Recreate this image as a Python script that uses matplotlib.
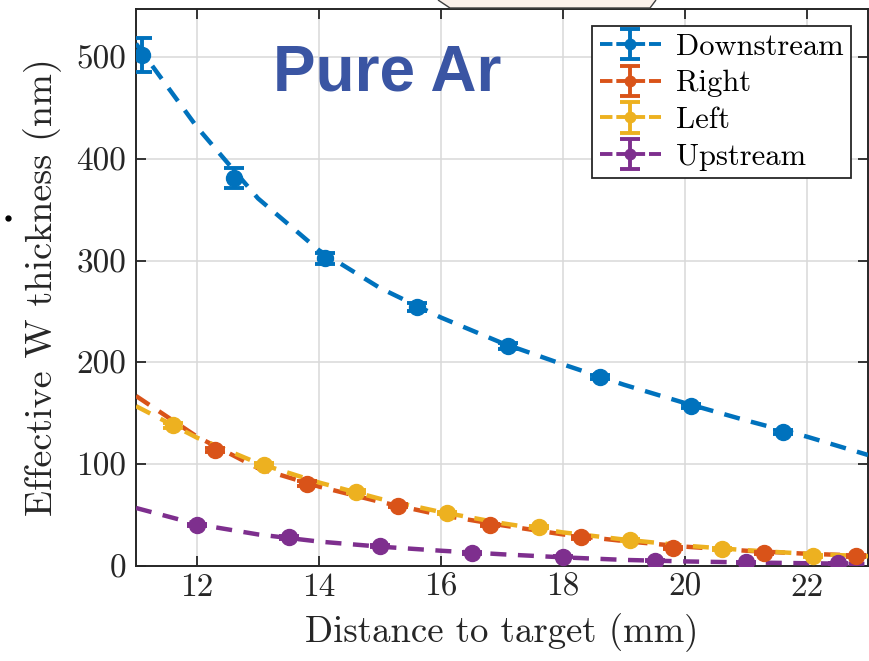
import numpy as np
import matplotlib
matplotlib.use('Agg')
import matplotlib.pyplot as plt
from matplotlib.patches import Polygon
from matplotlib.lines import Line2D

plt.rcParams['axes.formatter.use_mathtext'] = True
plt.rcParams['mathtext.fontset'] = 'cm'

# ---------------- data ----------------
series_names = ['Downstream', 'Right', 'Left', 'Upstream']
colors = ['#0072BD', '#D95319', '#EDB120', '#7E2F8E']

down_x = [11.1, 12.6, 14.1, 15.6, 17.1, 18.6, 20.1, 21.6]
down_y = [502, 381, 302, 254, 216, 186, 157, 132]
down_err = [17, 10, 5, 4, 3, 2, 2, 2]

right_x = [12.3, 13.8, 15.3, 16.8, 18.3, 19.8, 21.3, 22.8]
right_y = [114, 81, 59, 40, 28, 18, 13, 10]
right_err = [2, 2, 1.5, 1, 1, 1, 1, 1]

left_x = [11.6, 13.1, 14.6, 16.1, 17.6, 19.1, 20.6, 22.1]
left_y = [138, 99, 73, 52, 38, 26, 17, 10]
left_err = [2, 2, 1.5, 1, 1, 1, 1, 1]

up_x = [12.0, 13.5, 15.0, 16.5, 18.0, 19.5, 21.0, 22.5]
up_y = [40, 28, 19.5, 13, 9, 5, 3.5, 2.5]
up_err = [1, 1, 1, 1, 0.5, 0.5, 0.5, 0.5]

# dashed fit curves, read at integer distances
fit_x = [11, 12, 13, 14, 15, 16, 17, 18, 19, 20, 21, 22, 23]
down_fit = [513, 431, 361, 310, 273, 244, 219, 198, 178, 160, 143, 127, 109]
right_fit = [167, 127, 96, 78, 63, 50, 40, 31, 24.5, 19, 15, 12, 10]
left_fit = [157, 126, 101, 82, 66, 53, 42, 33, 26, 20, 15.5, 12, 9.5]
up_fit = [57, 41, 31, 24, 19, 15, 11.5, 8.5, 6, 4.5, 3.5, 2.7, 2]

x_ticks = [12, 14, 16, 18, 20, 22]
y_ticks = [0, 100, 200, 300, 400, 500]

# ---------------- figure ----------------
W, H = 869, 661
fig = plt.figure(figsize=(W / 100, H / 100), dpi=100)
ax = fig.add_axes([136 / W, 1 - 566 / H, (868 - 136) / W, (566 - 9) / H])

data = [
    (down_x, down_y, down_err, down_fit),
    (right_x, right_y, right_err, right_fit),
    (left_x, left_y, left_err, left_fit),
    (up_x, up_y, up_err, up_fit),
]

lw = 3.2
dash = (3.6, 2.6)
handles = []
for (xs, ys, es, fit), c, name in zip(data, colors, series_names):
    ax.plot(fit_x, fit, color=c, lw=lw, ls=(0, dash), zorder=3,
            dash_capstyle='butt')
    ax.errorbar(xs, ys, yerr=es, fmt='o', color=c, ms=11.5, elinewidth=2.8,
                capsize=7, capthick=2.8, zorder=4)
    h = ax.errorbar([np.nan], [np.nan], yerr=[1], fmt='o', ls=(0, (3.2, 1.0)),
                    color=c, ms=7.5, lw=2.8, elinewidth=2.8, capsize=7,
                    capthick=2.8, label=name)
    handles.append(h)

ax.set_xlim(11, 23)
ax.set_ylim(0, 547)
ax.set_xticks(x_ticks)
ax.set_yticks(y_ticks)
ax.set_xticklabels([str(t) for t in x_ticks])
ax.set_yticklabels([str(t) for t in y_ticks])

for lab in ax.get_xticklabels() + ax.get_yticklabels():
    lab.set_fontfamily('cmr10')
    lab.set_fontsize(24)
    lab.set_color('#262626')

ax.tick_params(direction='in', length=7, width=1.3, top=True, right=True,
               colors='#262626')
ax.tick_params(axis='x', pad=5)
ax.tick_params(axis='y', pad=7)
ax.grid(True, color='#d9d9d9', lw=1.1)
ax.set_axisbelow(True)
for s in ax.spines.values():
    s.set_color('#262626')
    s.set_linewidth(1.4)

ax.set_xlabel('Distance to target (mm)', fontfamily='cmr10', fontsize=26.5,
              color='#262626', labelpad=8)
ax.set_ylabel('Effective W thickness (nm)', fontfamily='cmr10', fontsize=27.5,
              color='#262626', labelpad=10)

leg = ax.legend(handles=handles, loc='upper right', prop={'family': 'cmr10', 'size': 22},
                frameon=True, fancybox=False, edgecolor='#262626', framealpha=1,
                handlelength=2.0, handletextpad=0.5, borderpad=0.25,
                labelspacing=0.3, borderaxespad=0.55)
leg.get_frame().set_linewidth(1.3)

ax.text(0.343, 0.885, 'Pure Ar', transform=ax.transAxes, ha='center', va='center',
        fontfamily='Liberation Sans', fontweight='bold', fontsize=46,
        color='#3A55A3')

# cropped callout shape above the axes and stray dot on the left
poly = Polygon([(438 / W, 1.0), (450 / W, 1 - 8 / H), (650 / W, 1 - 8 / H), (656 / W, 1.0)],
               closed=False, transform=fig.transFigure, facecolor='#FBF1EA',
               edgecolor='#404040', lw=1.0)
fig.patches.append(poly)
fig.add_artist(Line2D([8 / W], [1 - 218 / H], marker='o', ms=3.5, color='black',
                      transform=fig.transFigure))

fig.savefig('out.png', dpi=100)
